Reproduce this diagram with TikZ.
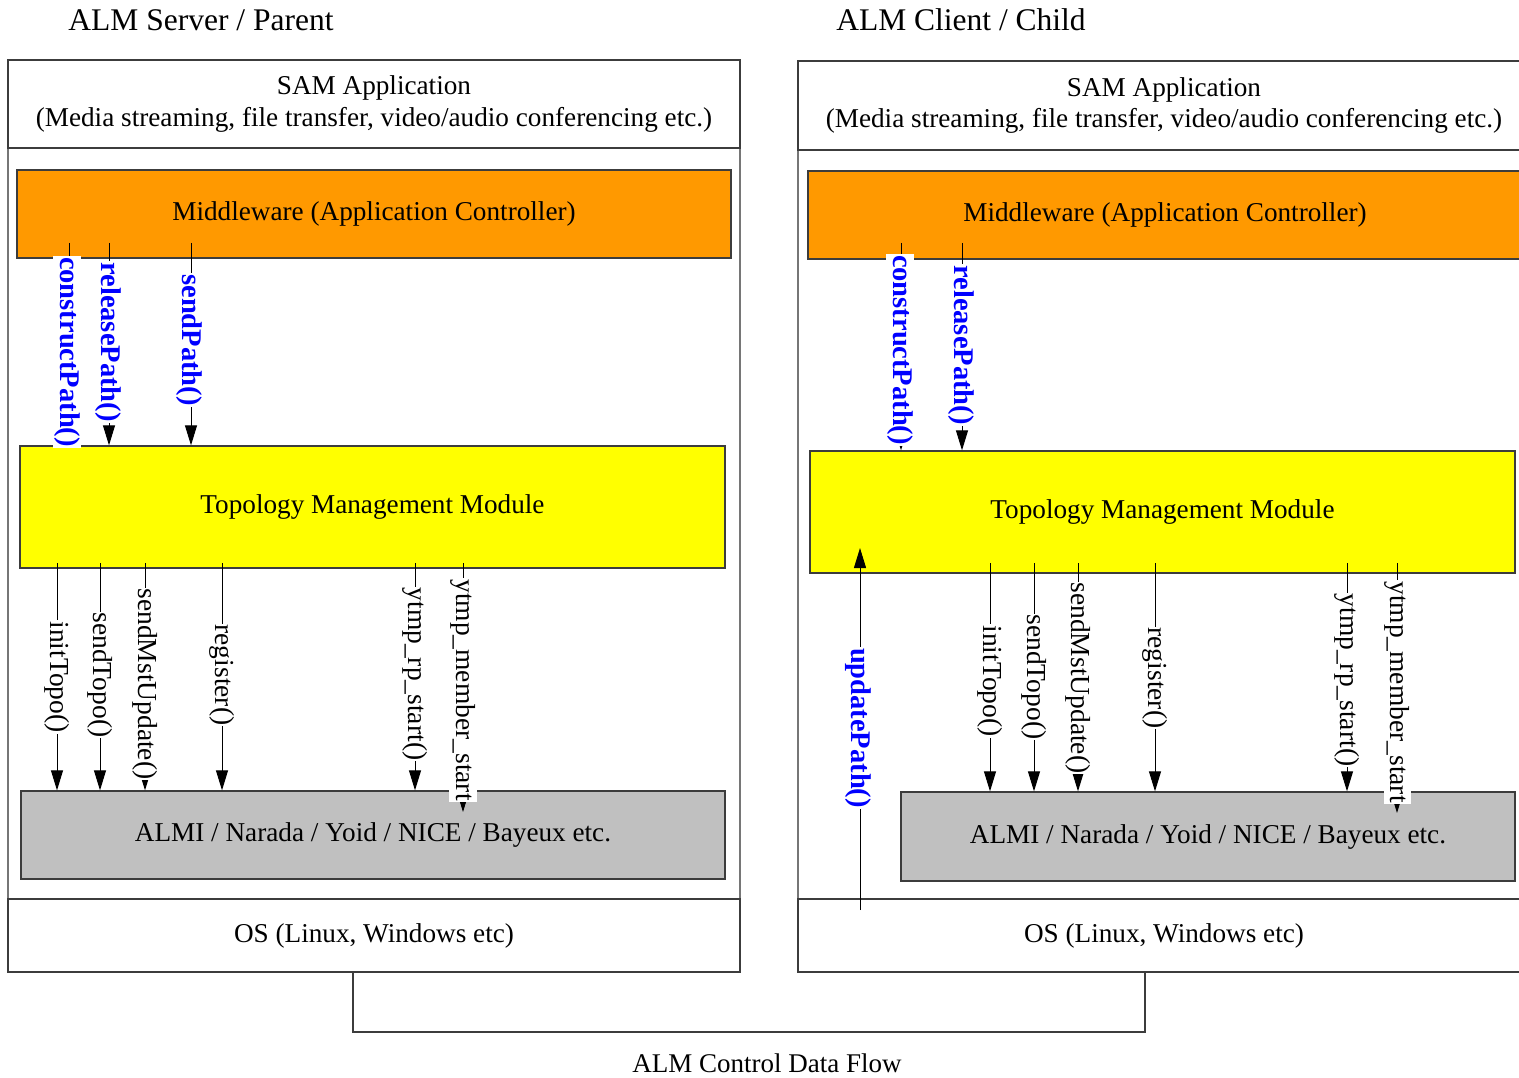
\documentclass[tikz,border=0pt]{standalone}
\usepackage{fontspec}
\setmainfont{Liberation Serif}
\usetikzlibrary{arrows.meta}
\definecolor{mworange}{RGB}{255,153,0}
\definecolor{tmmyellow}{RGB}{255,255,0}
\definecolor{almigray}{RGB}{192,192,192}
\definecolor{edge}{RGB}{60,60,60}
\definecolor{callblue}{RGB}{0,0,255}
\begin{document}
\begin{tikzpicture}[x=1pt,y=-1pt,
  box/.style={draw=edge,line width=1.3pt,inner sep=0pt,align=center,
    font=\fontsize{27.2}{32}\selectfont},
  frame/.style={draw=edge!70,line width=1.6pt},
  call/.style={draw=black,line width=1pt,-{Triangle[length=20pt,width=12pt]}},
  lbl/.style={fill=white,inner sep=1pt,rotate=-90,font=\fontsize{27.5}{28}\selectfont},
  blbl/.style={lbl,text=callblue,font=\fontsize{28.5}{28}\selectfont\bfseries},
  title/.style={font=\fontsize{31.5}{34}\selectfont,inner sep=0pt}]
\clip (0,0) rectangle (1519,1078);
\fill[white] (0,0) rectangle (1519,1078);

% ---------- titles ----------
\node[title] (tL) at (201,20) {ALM Server / Parent};
\node[title] (tR) at (961,20) {ALM Client / Child};

% ---------- server / parent stack ----------
\draw[frame] (8,60) rectangle (740,972);
\node[box,minimum width=732pt,minimum height=88pt] (samL) at (374,104)
  {SAM Application\\(Media streaming, file transfer, video/audio conferencing etc.)};
\node[box,fill=mworange,minimum width=714pt,minimum height=88pt] (mwL) at (374,214)
  {Middleware (Application Controller)};
\node[box,fill=tmmyellow,minimum width=705pt,minimum height=122pt] (tmmL) at (372.5,507)
  {Topology Management Module};
\node[box,fill=almigray,minimum width=704pt,minimum height=88pt] (almiL) at (373,835)
  {ALMI / Narada / Yoid / NICE / Bayeux etc.};
\node[box,minimum width=732pt,minimum height=73pt] (osL) at (374,935.5)
  {OS (Linux, Windows etc)};

% ---------- client / child stack ----------
\draw[frame] (798,61) rectangle (1530,972);
\node[box,minimum width=732pt,minimum height=89pt] (samR) at (1164,105.5)
  {SAM Application\\(Media streaming, file transfer, video/audio conferencing etc.)};
\node[box,fill=mworange,minimum width=714pt,minimum height=88pt] (mwR) at (1165,215)
  {Middleware (Application Controller)};
\node[box,fill=tmmyellow,minimum width=705pt,minimum height=122pt] (tmmR) at (1162.5,512)
  {Topology Management Module};
\node[box,fill=almigray,minimum width=614pt,minimum height=89pt] (almiR) at (1208,836.5)
  {ALMI / Narada / Yoid / NICE / Bayeux etc.};
\node[box,minimum width=732pt,minimum height=73pt] (osR) at (1164,935.5)
  {OS (Linux, Windows etc)};

% ---------- middleware -> topology calls (server) ----------
\foreach \nm/\x in {cpL/69,rpL/109,spL/191}
  \coordinate (\nm) at (\x,243);
\draw[call] (cpL) -- (cpL |- tmmL.north);
\draw[call] (rpL) -- (rpL |- tmmL.north);
\draw[call] (spL) -- (spL |- tmmL.north);
\node[blbl] at (67,352) {constructPath()};
\node[blbl] at (108,342) {releasePath()};
\node[blbl] at (189,340) {sendPath()};

% ---------- topology -> ALMI calls (server) ----------
\foreach \nm/\x in {itL/57,stL/100,smL/145,rgL/222,rsL/415,msL/463}
  \coordinate (\nm) at (\x,563);
\draw[call] (itL) -- (itL |- almiL.north);
\draw[call] (stL) -- (stL |- almiL.north);
\draw[call] (smL) -- (smL |- almiL.north);
\draw[call] (rgL) -- (rgL |- almiL.north);
\draw[call] (rsL) -- (rsL |- almiL.north);
\coordinate (msLend) at (463,812);
\draw[call] (msL) -- (msLend);
\node[lbl] at (57,677) {initTopo()};
\node[lbl] at (100,675) {sendTopo()};
\node[lbl] at (145,684) {sendMstUpdate()};
\node[lbl] at (222,675) {register()};
\node[lbl] at (415,674) {ytmp\_rp\_start()};
\node[lbl] at (463,690) {ytmp\_member\_start};

% ---------- middleware -> topology calls (client) ----------
\foreach \nm/\x in {cpR/901,rpR/962}
  \coordinate (\nm) at (\x,243);
\draw[call] (cpR) -- (cpR |- tmmR.north);
\draw[call] (rpR) -- (rpR |- tmmR.north);
\node[blbl] at (900,350) {constructPath()};
\node[blbl] at (961,345) {releasePath()};

% ---------- OS -> topology (client) ----------
\coordinate (upR) at (860,910);
\draw[call] (upR) -- (860,548);
\node[blbl] at (858,728) {updatePath()};

% ---------- topology -> ALMI calls (client) ----------
\foreach \nm/\x in {itR/990,stR/1034,smR/1078,rgR/1155,rsR/1347,msR/1397}
  \coordinate (\nm) at (\x,563);
\draw[call] (itR) -- (itR |- almiR.north);
\draw[call] (stR) -- (stR |- almiR.north);
\draw[call] (smR) -- (smR |- almiR.north);
\draw[call] (rgR) -- (rgR |- almiR.north);
\draw[call] (rsR) -- (rsR |- almiR.north);
\coordinate (msRend) at (1397,813);
\draw[call] (msR) -- (msRend);
\node[lbl] at (990,681) {initTopo()};
\node[lbl] at (1034,677) {sendTopo()};
\node[lbl] at (1078,678) {sendMstUpdate()};
\node[lbl] at (1155,678) {register()};
\node[lbl] at (1347,680) {ytmp\_rp\_start()};
\node[lbl] at (1397,692) {ytmp\_member\_start};

% ---------- control data flow between the two OS layers ----------
\draw[draw=edge,line width=1.2pt] (osL.south -| 353,0) -- (353,1032) -- (1145,1032) -- (osR.south -| 1145,0);
\node[font=\fontsize{27}{30}\selectfont,inner sep=0pt] (flow) at (767,1063) {ALM Control Data Flow};
\end{tikzpicture}
\end{document}
